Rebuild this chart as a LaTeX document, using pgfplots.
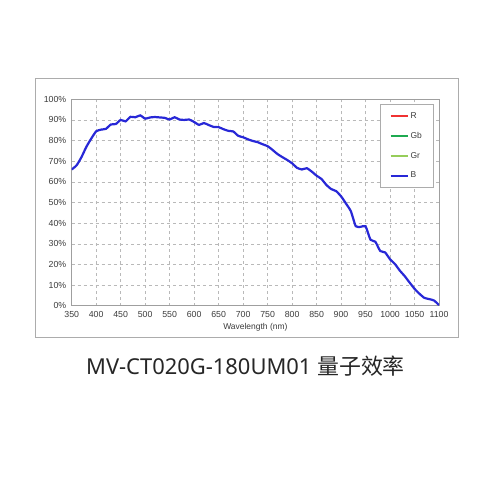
\documentclass[border=0pt]{standalone}
\usepackage{fontspec}
\setmainfont{Liberation Sans}
\newfontfamily\titlefont{Noto Sans}
\newfontfamily\cjk{Noto Sans CJK SC}
\usepackage{pgfplots}
\pgfplotsset{compat=1.18}
\definecolor{curveblue}{RGB}{40,40,215}
\definecolor{lgred}{RGB}{240,50,50}
\definecolor{lggreen}{RGB}{30,170,80}
\definecolor{lglight}{RGB}{150,205,90}
\definecolor{txtgray}{RGB}{60,60,60}

\pgfplotstableread{
wl qe
350 66.0
360 68.0
370 72.0
380 77.0
390 81.0
400 84.5
410 85.3
420 85.7
430 87.8
440 88.0
450 90.0
460 89.3
470 91.5
480 91.3
490 92.2
500 90.6
510 91.2
520 91.4
530 91.2
540 91.0
550 90.2
560 91.3
570 90.2
580 90.0
590 90.2
600 89.0
610 87.6
620 88.5
630 87.5
640 86.6
650 86.5
660 85.5
670 84.7
680 84.4
690 82.3
700 81.6
710 80.6
720 79.8
730 79.2
740 78.2
750 77.3
760 75.5
770 73.5
780 72.0
790 70.6
800 69.0
810 66.8
820 66.0
830 66.6
840 65.0
850 63.0
860 61.4
870 58.5
880 56.5
890 55.5
900 53.0
910 49.5
920 45.8
930 38.5
940 38.2
950 38.5
960 32.0
970 31.0
980 26.5
990 25.8
1000 22.5
1010 20.2
1020 17.0
1030 14.3
1040 11.2
1050 8.2
1060 5.8
1070 3.8
1080 3.2
1090 2.5
1100 0.3
}\qedata

\begin{document}
\begin{tikzpicture}[x=1bp,y=1bp]
\fill[white] (0,0) rectangle (500,500);
\draw[gray!65, line width=0.9bp] (35,163) rectangle (458,422);
\begin{axis}[
  at={(71.7bp,194.3bp)}, anchor=south west,
  scale only axis,
  width=367.3bp, height=206.4bp,
  xmin=350, xmax=1100, ymin=0, ymax=100,
  xtick={350,400,...,1100},
  ytick={0,10,...,100},
  /pgf/number format/assume math mode=true,
  xticklabel style={/pgf/number format/1000 sep={}, yshift=-2.5bp},
  yticklabel style={xshift=-2bp},
  yticklabel={\pgfmathprintnumber{\tick}\%},
  tick label style={font=\fontsize{8.8}{10}\selectfont, text=txtgray},
  xlabel={Wavelength (nm)},
  xlabel style={font=\fontsize{8.5}{10}\selectfont, text=txtgray, yshift=1bp},
  major tick length=0pt,
  axis line style={gray!75, line width=1bp},
  grid=major,
  grid style={gray!55, dashed, line width=0.5bp},
  legend style={at={(0.984,0.977)}, anchor=north east, draw=gray!65,
    font=\fontsize{8.5}{10}\selectfont, text=txtgray,
    row sep=8.5bp, inner xsep=9bp, inner ysep=6bp},
  legend cell align=left,
]
\addlegendimage{draw=lgred, line width=1.6bp}
\addlegendentry{R}
\addlegendimage{draw=lggreen, line width=1.6bp}
\addlegendentry{Gb}
\addlegendimage{draw=lglight, line width=1.6bp}
\addlegendentry{Gr}
\addplot[curveblue, line width=2.2bp, smooth, tension=0.3] table[x=wl, y=qe] {\qedata};
\addlegendentry{B}
\end{axis}
\node[anchor=center, text=black!85, font=\fontsize{22}{25}\selectfont] at (245.5,134)
  {\titlefont MV-CT020G-180UM01 {\cjk 量子效率}};
\end{tikzpicture}
\end{document}
